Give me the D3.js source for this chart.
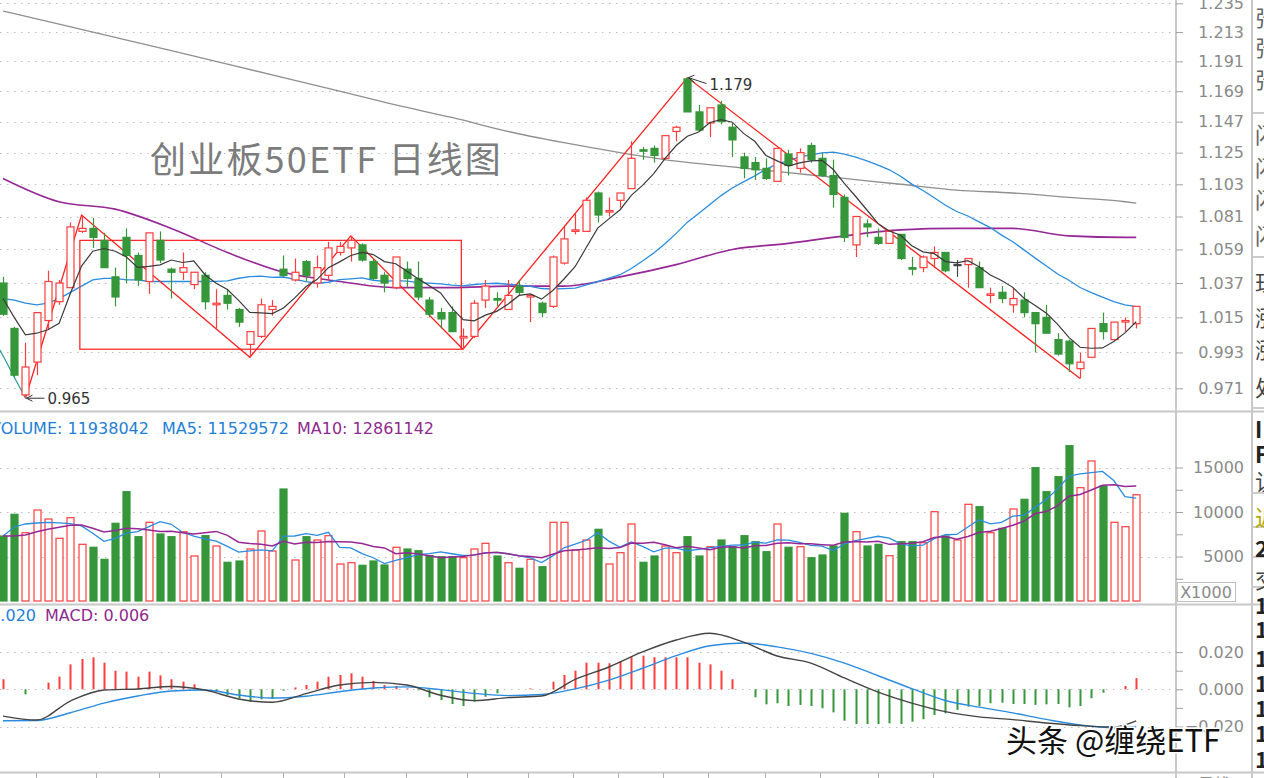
<!DOCTYPE html>
<html>
<head>
<meta charset="utf-8">
<script src="https://cdn.jsdelivr.net/npm/d3@7"></script>
<style>
  body { margin: 0; background: #fff; overflow: hidden; }
  svg { display: block; font-family: "DejaVu Sans", Arial, sans-serif; }
</style>
</head>
<body>
<svg id="chart" width="1264" height="778"></svg>
<script>
// ---- daily candles ----
const opens = [1.037,1.008,0.967,0.987,1.013,1.025,1.034,1.071,1.073,1.065,
  1.041,1.067,1.055,1.038,1.065,1.046,1.044,1.036,1.042,1.023,
  1.029,1.020,0.998,1.003,1.020,1.046,1.039,1.051,1.037,1.042,
  1.057,1.060,1.062,1.051,1.042,1.034,1.046,1.040,1.026,1.018,
  1.018,1.002,1.003,1.026,1.027,1.020,1.035,1.028,1.024,1.022,
  1.050,1.071,1.071,1.097,1.084,1.092,1.100,1.127,1.128,1.121,
  1.140,1.178,1.154,1.146,1.159,1.143,1.122,1.118,1.114,1.105,
  1.124,1.114,1.130,1.121,1.109,1.094,1.062,1.076,1.067,1.063,
  1.069,1.047,1.047,1.053,1.057,1.049,1.049,1.047,1.029,1.031,
  1.023,1.026,1.018,1.015,1.001,1.000,0.983,0.990,1.011,1.001,
  1.012,1.011];
const highs = [1.041,1.009,0.999,1.018,1.045,1.039,1.077,1.082,1.080,1.070,
  1.047,1.073,1.057,1.070,1.071,1.047,1.057,1.044,1.044,1.033,
  1.033,1.021,1.006,1.027,1.026,1.055,1.053,1.052,1.055,1.064,
  1.064,1.068,1.063,1.053,1.044,1.054,1.051,1.051,1.028,1.021,
  1.022,1.008,1.026,1.039,1.031,1.039,1.039,1.029,1.025,1.055,
  1.074,1.083,1.094,1.098,1.094,1.097,1.133,1.129,1.130,1.137,
  1.144,1.179,1.159,1.157,1.162,1.146,1.125,1.122,1.121,1.128,
  1.127,1.128,1.132,1.125,1.120,1.096,1.081,1.079,1.073,1.072,
  1.069,1.054,1.055,1.061,1.057,1.052,1.053,1.051,1.034,1.035,
  1.034,1.031,1.018,1.023,1.005,1.001,0.993,1.008,1.018,1.012,
  1.015,1.022];
const lows = [1.016,0.978,0.965,0.979,1.007,1.023,1.034,1.070,1.060,1.047,
  1.022,1.037,1.035,1.030,1.050,1.027,1.039,1.033,1.020,1.008,
  1.020,1.009,0.990,1.002,1.016,1.041,1.038,1.038,1.034,1.039,
  1.055,1.051,1.051,1.039,1.031,1.033,1.034,1.026,1.015,1.008,
  1.006,0.995,1.002,1.021,1.022,1.020,1.029,1.012,1.015,1.021,
  1.049,1.069,1.071,1.077,1.081,1.087,1.100,1.120,1.118,1.120,
  1.133,1.154,1.140,1.136,1.145,1.122,1.107,1.106,1.106,1.105,
  1.109,1.111,1.118,1.108,1.087,1.064,1.054,1.067,1.062,1.063,
  1.052,1.042,1.044,1.047,1.044,1.041,1.034,1.034,1.024,1.024,
  1.018,1.015,0.993,1.005,0.991,0.981,0.977,0.990,1.001,1.001,
  1.006,1.008];
const closes = [1.017,0.979,0.984,1.018,1.038,1.037,1.074,1.073,1.067,1.047,
  1.028,1.055,1.039,1.070,1.052,1.044,1.047,1.044,1.025,1.024,
  1.024,1.012,1.006,1.023,1.022,1.042,1.044,1.042,1.047,1.060,
  1.061,1.065,1.052,1.040,1.037,1.054,1.040,1.028,1.017,1.014,
  1.006,1.003,1.024,1.035,1.026,1.029,1.031,1.029,1.018,1.054,
  1.066,1.072,1.092,1.082,1.085,1.097,1.121,1.126,1.123,1.137,
  1.143,1.154,1.141,1.157,1.147,1.134,1.114,1.113,1.107,1.128,
  1.116,1.125,1.120,1.109,1.096,1.067,1.081,1.074,1.063,1.071,
  1.053,1.046,1.054,1.057,1.045,1.049,1.053,1.034,1.030,1.027,
  1.027,1.018,1.011,1.005,0.992,0.986,0.987,1.008,1.006,1.012,
  1.013,1.022];

// volume, in units of 1000
const volumes = [7303,9742,7674,10225,9213,7045,9360,6371,6034,4685,
  8730,12281,7225,8843,7528,7225,7787,5056,7337,6180,
  4348,4494,5843,7865,5618,12584,4607,7225,6854,7337,
  4157,4303,4011,4494,4045,6034,5843,5652,5090,4978,
  4978,4865,5843,6483,5056,4303,3674,4685,3854,8843,
  8843,5730,6854,8056,4157,5427,8652,4348,5056,6180,
  5427,7225,5056,6101,6854,6101,7337,6663,5539,8652,
  6034,6101,4865,5169,6180,9854,7787,6180,6371,5090,
  6663,6663,6551,10034,7303,6854,10865,10596,7674,8169,
  10337,11427,14978,12281,13966,17450,12730,15730,12921,8843,
  8348,11938];
// header readings of the last day
const volumeHeader = [["VOLUME", 11938042], ["MA5", 11529572], ["MA10", 12861142]];

// MACD histogram per day
const macdHist = [0.0054,0,-0.0027,0,0.0036,0.0068,0.0134,0.0163,0.0172,0.0143,
  0.0100,0.0095,0.0068,0.0095,0.0075,0.0054,0.0041,0.0027,0,-0.0013,
  -0.0031,-0.0048,-0.0067,-0.0054,-0.0052,-0.0007,0.0010,0.0023,0.0041,0.0068,
  0.0077,0.0086,0.0068,0.0045,0.0023,0.0018,0.0005,-0.0005,-0.0043,-0.0058,
  -0.0079,-0.0090,-0.0067,-0.0040,-0.0022,0,0,0.0005,0,0.0041,
  0.0077,0.0100,0.0143,0.0143,0.0140,0.0152,0.0175,0.0181,0.0172,0.0172,
  0.0172,0.0172,0.0143,0.0134,0.0100,0.0054,0,-0.0043,-0.0081,-0.0075,
  -0.0090,-0.0084,-0.0090,-0.0102,-0.0124,-0.0169,-0.0187,-0.0187,-0.0187,-0.0183,
  -0.0187,-0.0174,-0.0161,-0.0138,-0.0129,-0.0111,-0.0093,-0.0090,-0.0075,-0.0072,
  -0.0079,-0.0079,-0.0084,-0.0081,-0.0079,-0.0097,-0.0090,-0.0048,-0.0018,0,
  0.0018,0.0060];

// DIF / DEA read at every third day
const macdIdx = [0,3,6,9,12,15,18,21,24,27,30,33,36,39,42,45,48,51,54,57,60,63,66,69,72,75,78,81,84,87,90,93,96,99,101];
const difValues = [-0.0144,-0.0165,-0.0063,-0.0004,0.0002,0.0015,-0.0004,-0.0052,-0.0070,-0.0023,
  0.0023,0.0037,0.0023,-0.0032,-0.0061,-0.0045,-0.0036,0.0053,0.0120,0.0201,
  0.0265,0.0301,0.0254,0.0179,0.0141,0.0061,-0.0015,-0.0074,-0.0120,-0.0148,
  -0.0163,-0.0181,-0.0195,-0.0203,-0.0170];
const deaValues = [-0.0169,-0.0168,-0.0126,-0.0074,-0.0036,-0.0009,-0.0004,-0.0031,-0.0047,-0.0037,
  -0.0013,0.0007,0.0013,-0.0002,-0.0022,-0.0034,-0.0028,0.0002,0.0049,0.0113,
  0.0181,0.0234,0.0249,0.0228,0.0193,0.0141,0.0073,0.0004,-0.0060,-0.0096,
  -0.0127,-0.0162,-0.0192,-0.0207,-0.0200];

// long moving averages read at every fifth day
const maSampleIdx = [0,5,10,15,20,25,30,35,40,45,50,55,60,65,70,75,80,85,90,95,100,101];
const ma60Values = [1.107,1.091,1.086,1.073,1.057,1.044,1.038,1.034,1.034,1.035,1.035,1.041,1.049,1.059,1.063,1.068,1.072,1.073,1.073,1.068,1.067,1.067];
const ma250Values = [1.229,1.219,1.209,1.199,1.189,1.179,1.169,1.159,1.150,1.140,1.132,1.125,1.119,1.115,1.111,1.107,1.103,1.099,1.097,1.094,1.091,1.090];

// first days of the short averages (their history is off the chart)
const priceMa5Lead = [1.027,1.015,1.004,1.005];
const priceMa20Lead = [1.027,1.026,1.024,1.023,1.024,1.027,1.031,1.035,1.039,1.040,1.040,1.039,1.039,1.038,1.038,1.038,1.038,1.038,1.038];
const volMa5Lead = [7303,8315,8652,8764];
const volMa10Lead = [7303,7303,7416,7787,8056,8281,8506,8539,8169];

// drawings on the price panel
const zigzagPivots = [[2,"low"],[7,"high"],[22,"low"],[31,"high"],[41,"low"],[61,"high"],[96,"low"]];
const prevLeg = [[-0.27,0.9945],[2,0.965]];
const boxRange = {from: 6.85, to: 40.85, top: 1.065, bottom: 0.995};

const priceTicks = d3.range(13).map(k => +(0.971 + 0.022 * k).toFixed(3));
const volTicks = [2500,5000,7500,10000,12500,15000];
const macdTicks = [-0.02,-0.01,0,0.01,0.02];
const dateTickIdx = [2.9,8.3,13.9,19.4,25,30.4,35.9,41.4,46.8,50.8,54.8,58.8,62.8,67.9,72.8,78,82.9];

const RED = "#ff3c3c", GREEN = "#35963a", GRID = "#bdbdbd", AXIS = "#8a8a8a";

const N = closes.length;
const plotRight = 1176;
const svg = d3.select("#chart");

const x = d3.scaleLinear().domain([0, N - 1]).range([3, 1136.2]);
const yPrice = d3.scaleLog().domain([0.971, 1.235]).range([388.3, 3.3]);
const yVol = d3.scaleLinear().domain([0, 15000]).range([601, 467.5]);
const yMacd = d3.scaleLinear().domain([-0.02, 0.02]).range([726.5, 652.1]);

function movingAvg(values, n, lead) {
    return values.map((v, i) => i < n - 1 ? lead[i] : d3.mean(values.slice(i - n + 1, i + 1)));
}
const priceMa5 = movingAvg(closes, 5, priceMa5Lead);
const priceMa20 = movingAvg(closes, 20, priceMa20Lead);
const volMa5 = movingAvg(volumes, 5, volMa5Lead);
const volMa10 = movingAvg(volumes, 10, volMa10Lead);

const candles = d3.range(N).map(i => ({
    i, o: opens[i], h: highs[i], l: lows[i], c: closes[i], v: volumes[i]
}));
const candleColor = d => d.c > d.o ? RED : d.c < d.o ? GREEN : "#444";

// clip regions
const defs = svg.append("defs");
[["clipPrice", 0, 410], ["clipVol", 414, 190], ["clipMacd", 606, 166], ["clipSide", 0, 778]].forEach(([id, y0, h]) => {
    defs.append("clipPath").attr("id", id).append("rect")
        .attr("x", id === "clipSide" ? 1253 : 0).attr("y", y0)
        .attr("width", id === "clipSide" ? 11 : plotRight).attr("height", h);
});

// panel frames
const frame = svg.append("g").attr("stroke", "#c8c8c8").attr("fill", "none");
frame.append("line").attr("x1", 0).attr("x2", 1264).attr("y1", 411.5).attr("y2", 411.5).attr("stroke-width", 2);
frame.append("line").attr("x1", 0).attr("x2", 1264).attr("y1", 604.5).attr("y2", 604.5).attr("stroke-width", 2);
frame.append("line").attr("x1", 0).attr("x2", 1264).attr("y1", 772.5).attr("y2", 772.5).attr("stroke-width", 2);
frame.append("line").attr("x1", plotRight).attr("x2", plotRight).attr("y1", 0).attr("y2", 778).attr("stroke-width", 2);
frame.append("line").attr("x1", 1252).attr("x2", 1252).attr("y1", 0).attr("y2", 778).attr("stroke-width", 2);

// dotted grids
function grid(values, scale) {
    svg.append("g").selectAll("line").data(values).join("line")
        .attr("x1", 0).attr("x2", plotRight - 2)
        .attr("y1", d => Math.round(scale(d)) + 0.5).attr("y2", d => Math.round(scale(d)) + 0.5)
        .attr("stroke", GRID).attr("stroke-dasharray", "1.5,5.5");
}
grid(priceTicks, yPrice);
grid([5000, 10000, 15000], yVol);
grid([-0.02, 0, 0.02], yMacd);

// right axes
function rightAxis(scale, ticks, fmt, showLabel) {
    const g = svg.append("g").attr("transform", `translate(${plotRight},0)`)
        .call(d3.axisRight(scale).tickValues(ticks).tickSize(7).tickFormat(fmt));
    g.select(".domain").remove();
    g.selectAll(".tick line").attr("stroke", "#a0a0a0");
    g.selectAll(".tick text")
        .attr("x", 68).attr("text-anchor", "end")
        .attr("fill", AXIS).style("font-size", "16px")
        .style("font-family", "'DejaVu Sans', sans-serif")
        .style("display", d => showLabel(d) ? null : "none");
}
rightAxis(yPrice, priceTicks, d3.format(".3f"), () => true);
rightAxis(yVol, volTicks, d3.format("d"), d => d % 5000 === 0);
rightAxis(yMacd, macdTicks, d3.format(".3f"), d => Math.abs(d * 100) % 2 < 1e-9);

// X1000 unit box
svg.append("rect").attr("x", 1177.5).attr("y", 582.5).attr("width", 58).attr("height", 19)
    .attr("fill", "#fff").attr("stroke", "#c0c0c0");
svg.append("text").attr("x", 1206).attr("y", 598).attr("text-anchor", "middle")
    .attr("fill", AXIS).style("font-size", "16px").text("X1000");

// ---------- price panel ----------
const price = svg.append("g").attr("clip-path", "url(#clipPrice)");

const lineIdx = (arr, scale) => d3.line().x((d, i) => x(i)).y(d => scale(d))(arr);
const sampled = (idx, vals, scale) => d3.line().curve(d3.curveMonotoneX)
    .x((d, k) => x(idx[k])).y(d => scale(d))(vals);

price.append("path").attr("d", sampled(maSampleIdx, ma250Values, yPrice))
    .attr("fill", "none").attr("stroke", "#8f8f8f").attr("stroke-width", 1.3);
price.append("path").attr("d", sampled(maSampleIdx, ma60Values, yPrice))
    .attr("fill", "none").attr("stroke", "#962896").attr("stroke-width", 1.6);
price.append("path").attr("d", lineIdx(priceMa20, yPrice))
    .attr("fill", "none").attr("stroke", "#2a8ce0").attr("stroke-width", 1.3);

// title
price.append("text").attr("x", 150).attr("y", 173)
    .style("font-family", "'Noto Sans CJK SC', sans-serif").style("font-size", "36px")
    .style("letter-spacing", "2.2px")
    .attr("fill", "#7c7c7c").text("创业板50ETF 日线图");

// box and wave lines
price.append("rect")
    .attr("x", x(boxRange.from)).attr("y", yPrice(boxRange.top))
    .attr("width", x(boxRange.to) - x(boxRange.from))
    .attr("height", yPrice(boxRange.bottom) - yPrice(boxRange.top))
    .attr("fill", "none").attr("stroke", "#ff2a2a").attr("stroke-width", 1.3);

price.append("path")
    .attr("d", d3.line().x(d => x(d[0])).y(d => yPrice(d[1]))(prevLeg))
    .attr("fill", "none").attr("stroke", "#1f9a9a").attr("stroke-width", 1.2);

const pivotPrice = ([i, kind]) => kind === "high" ? highs[i] : lows[i];
price.append("path")
    .attr("d", d3.line().x(d => x(d[0])).y(d => yPrice(pivotPrice(d)))(zigzagPivots))
    .attr("fill", "none").attr("stroke", "#ff2020").attr("stroke-width", 1.3);

// candles
const cg = price.append("g").selectAll("g").data(candles).join("g");
cg.append("line")
    .attr("x1", d => Math.round(x(d.i)) + 0.5).attr("x2", d => Math.round(x(d.i)) + 0.5)
    .attr("y1", d => yPrice(d.h)).attr("y2", d => yPrice(d.l))
    .attr("stroke", candleColor).attr("stroke-width", 1.2);
cg.append("rect")
    .attr("x", d => Math.round(x(d.i)) - 3)
    .attr("y", d => yPrice(Math.max(d.o, d.c)))
    .attr("width", 7)
    .attr("height", d => Math.max(1, Math.abs(yPrice(d.o) - yPrice(d.c))))
    .attr("fill", d => d.c > d.o ? "#fff" : candleColor(d))
    .attr("stroke", candleColor).attr("stroke-width", 1.2);

price.append("path").attr("d", lineIdx(priceMa5, yPrice))
    .attr("fill", "none").attr("stroke", "#3a3a3a").attr("stroke-width", 1.2);

// extreme labels
function extremeLabel(i, value, dy) {
    const px = x(i), py = yPrice(value);
    const g = price.append("g").attr("stroke", "#333").attr("fill", "none").attr("stroke-width", 1);
    g.append("line").attr("x1", px + 1).attr("y1", py).attr("x2", px + 19).attr("y2", py + dy);
    g.append("path").attr("d", `M${px + 7},${py - 3 + dy * 0.1}L${px + 1},${py}L${px + 7},${py + 3 + dy * 0.3}`);
    price.append("text").attr("x", px + 22).attr("y", py + dy + 6)
        .attr("fill", "#333").style("font-size", "15px").text(value.toFixed(3));
}
extremeLabel(2, lows[2], 0);
extremeLabel(61, highs[61], 6);

// ---------- volume panel ----------
const vol = svg.append("g").attr("clip-path", "url(#clipVol)");
vol.append("g").selectAll("rect").data(candles).join("rect")
    .attr("x", d => Math.round(x(d.i)) - 3).attr("y", d => yVol(d.v))
    .attr("width", 7).attr("height", d => yVol(0) - yVol(d.v))
    .attr("fill", d => d.c >= d.o ? "#fff" : GREEN)
    .attr("stroke", d => d.c >= d.o ? RED : GREEN).attr("stroke-width", 1.2);
vol.append("path").attr("d", lineIdx(volMa5, yVol))
    .attr("fill", "none").attr("stroke", "#2a8ce0").attr("stroke-width", 1.3);
vol.append("path").attr("d", lineIdx(volMa10, yVol))
    .attr("fill", "none").attr("stroke", "#962896").attr("stroke-width", 1.5);

const volHeadX = [-10, 162, 297];
const volHeadColor = ["#1f7fd6", "#1f7fd6", "#8e2a8e"];
svg.append("g").selectAll("text").data(volumeHeader).join("text")
    .attr("x", (d, k) => volHeadX[k]).attr("y", 434)
    .attr("fill", (d, k) => volHeadColor[k]).style("font-size", "16px")
    .text(d => `${d[0]}: ${d[1]}`);

// ---------- MACD panel ----------
const macd = svg.append("g").attr("clip-path", "url(#clipMacd)");
macd.append("g").selectAll("line").data(macdHist).join("line")
    .attr("x1", (d, i) => Math.round(x(i)) + 0.5).attr("x2", (d, i) => Math.round(x(i)) + 0.5)
    .attr("y1", yMacd(0)).attr("y2", d => yMacd(d))
    .attr("stroke", d => d >= 0 ? RED : GREEN).attr("stroke-width", 2);
macd.append("path").attr("d", sampled(macdIdx, deaValues, yMacd))
    .attr("fill", "none").attr("stroke", "#2a8ce0").attr("stroke-width", 1.4);
macd.append("path").attr("d", sampled(macdIdx, difValues, yMacd))
    .attr("fill", "none").attr("stroke", "#444").attr("stroke-width", 1.4);

svg.append("text").attr("x", 36).attr("y", 621).attr("text-anchor", "end")
    .style("font-size", "16px").attr("fill", "#1f7fd6")
    .text(d3.format(".3f")(deaValues[deaValues.length - 1]));
svg.append("text").attr("x", 45).attr("y", 621).style("font-size", "16px")
    .attr("fill", "#8e2a8e").text(`MACD: ${d3.format(".3f")(macdHist[N - 1])}`);

// date ticks along the bottom
svg.append("g").selectAll("line").data(dateTickIdx).join("line")
    .attr("x1", d => Math.round(x(d)) + 0.5).attr("x2", d => Math.round(x(d)) + 0.5)
    .attr("y1", 773).attr("y2", 778).attr("stroke", "#b0b0b0");
svg.append("text").attr("x", 1198).attr("y", 790).attr("fill", AXIS)
    .style("font-family", "'Noto Sans CJK SC', sans-serif").style("font-size", "16px").text("日线");

// cut-off side panel
const side = svg.append("g").attr("clip-path", "url(#clipSide)")
    .style("font-family", "'Noto Sans CJK SC', sans-serif");
[113, 257, 408, 493, 527, 557, 587].forEach(y => side.append("line")
    .attr("x1", 1252).attr("x2", 1264).attr("y1", y).attr("y2", y).attr("stroke", "#999"));
const sideRows = [[18,"张","#666"],[48,"张","#666"],[80,"张","#666"],[135,"闪","#666"],[168,"闪","#666"],
    [200,"闪","#666"],[236,"闪","#666"],[283,"玨","#444"],[318,"涨","#444"],[350,"涨","#444"],[388,"处","#444"],
    [430,"I","#222"],[455,"F","#222"],[482,"让","#444"],[518,"近","#b8a800"],[549,"2","#222"],
    [580,"交","#444"],[606,"1","#222"],[630,"1","#222"],[659,"1","#222"],[684,"1","#222"],
    [709,"1","#222"],[734,"1","#222"],[760,"1","#222"]];
side.selectAll("text").data(sideRows).join("text")
    .attr("x", 1255).attr("y", d => d[0] + 8).attr("fill", d => d[2])
    .style("font-size", "22px").style("font-weight", d => /[0-9A-Z]/.test(d[1]) ? "bold" : null)
    .text(d => d[1]);

// watermark
svg.append("text").attr("x", 1006).attr("y", 752)
    .style("font-family", "'Noto Sans CJK SC', sans-serif").style("font-size", "31px")
    .attr("fill", "#111").attr("stroke", "#fff").attr("stroke-width", 3)
    .style("paint-order", "stroke").text("头条 @缠绕ETF");
</script>
</body>
</html>
